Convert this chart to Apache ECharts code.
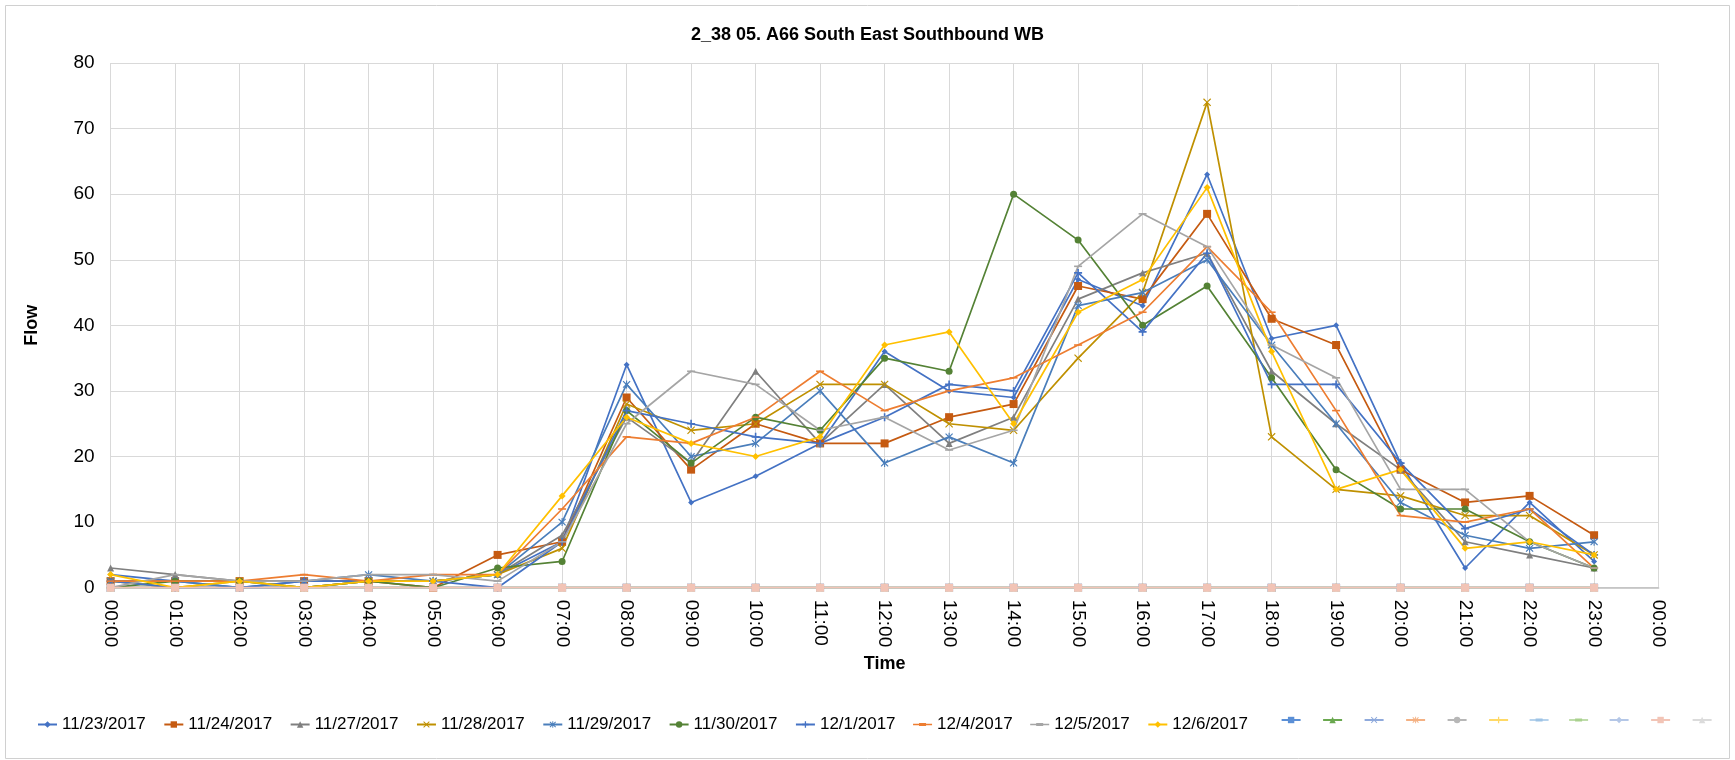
<!DOCTYPE html>
<html>
<head>
<meta charset="utf-8">
<script src="https://cdn.jsdelivr.net/npm/echarts@6/dist/echarts.min.js"></script>
<style>
html,body{margin:0;padding:0;background:#fff;}
#chart{width:1735px;height:760px;}
</style>
</head>
<body>
<div id="chart"></div>
<script>
// ---- data ----
const chartTitle = '2_38 05. A66 South East Southbound WB';
const timeLabels = ['00:00','01:00','02:00','03:00','04:00','05:00','06:00','07:00','08:00','09:00','10:00','11:00','12:00','13:00','14:00','15:00','16:00','17:00','18:00','19:00','20:00','21:00','22:00','23:00','00:00'];
const seriesNames = ['11/23/2017','11/24/2017','11/27/2017','11/28/2017','11/29/2017','11/30/2017','12/1/2017','12/4/2017','12/5/2017','12/6/2017'];

const flow_11_23 = [2,1,0,0,1,1,2,7,34,13,17,22,36,30,29,47,43,63,38,40,19,3,13,4];
const flow_11_24 = [1,1,1,1,1,0,5,7,29,18,25,22,22,26,28,46,44,57,41,37,18,13,14,8];
const flow_11_27 = [3,2,1,1,1,1,2,8,26,19,33,22,31,22,26,44,48,51,33,25,18,7,5,3];
const flow_11_28 = [1,0,1,0,1,1,2,6,28,24,25,31,31,25,24,35,45,74,23,15,14,11,11,5];
const flow_11_29 = [1,1,0,1,2,1,2,10,31,20,22,30,19,23,19,43,45,50,37,25,13,8,6,7];
const flow_11_30 = [0,1,1,0,1,0,3,4,27,19,26,24,35,33,60,53,40,46,32,18,12,12,7,3];
const flow_12_01 = [1,0,0,1,1,1,0,7,27,25,23,22,26,31,30,48,39,51,31,31,19,9,12,5];
const flow_12_04 = [1,1,1,2,1,2,2,12,23,22,26,33,27,30,32,37,42,52,42,27,11,10,12,3];
const flow_12_05 = [0,2,1,1,2,2,1,7,25,33,31,24,26,21,24,49,57,52,37,32,15,15,7,3];
const flow_12_06 = [2,0,1,0,1,1,2,14,26,22,20,23,37,39,25,42,47,61,36,15,18,6,7,5];
const namedValues = [flow_11_23,flow_11_24,flow_11_27,flow_11_28,flow_11_29,flow_11_30,flow_12_01,flow_12_04,flow_12_05,flow_12_06];

// unlabeled series in the legend, all plotted along zero
const blankSeriesValues = [0,0,0,0,0,0,0,0,0,0,0,0,0,0,0,0,0,0,0,0,0,0,0,0];
const blankSeriesCount = 11;

// ---- styles ----
const P_PLUS = 'path://M4,0H6V4H10V6H6V10H4V6H0V4H4Z';
const P_X = 'path://M1,0L5,4L9,0L10,1L6,5L10,9L9,10L5,6L1,10L0,9L4,5L0,1Z';
const P_STAR = 'path://M4.3,0H5.7V3.6L8.9,0.4L9.9,1.4L6.4,5L9.9,8.6L8.9,9.6L5.7,6.4V10H4.3V6.4L1.1,9.6L0.1,8.6L3.6,5L0.1,1.4L1.1,0.4L4.3,3.6Z';
const P_DASH = 'path://M0,4H10V6H0Z';
const P_DASH_LEGEND = 'path://M0,9.3H19V10.7H0Z M6,8.5H13V11.5H6Z';

const namedColors = ['#4472C4','#C55A11','#7F7F7F','#BF9000','#4A7EBB','#548235','#4472C4','#ED7D31','#A5A5A5','#FFC000'];
const namedSymbols = ['diamond','rect','triangle',P_X,P_STAR,'circle',P_PLUS,P_DASH,P_DASH,'diamond'];
const namedSizes = [6,8,7,8,8,7,8,8,8,7];

const blankColors = ['#5B8FD6','#6AA84F','#8FAADC','#F4B183','#B7B7B7','#FFD966','#9DC3E6','#A9D18E','#B4C7E7','#F2C4B6','#DBDBDB'];
const blankSymbols = ['rect','triangle',P_X,P_STAR,'circle',P_PLUS,P_DASH,P_DASH,'diamond','rect','triangle'];

const series = [];
const legend1Data = [];
seriesNames.forEach((n, i) => {
  series.push({
    name: n, type: 'line', data: namedValues[i],
    symbol: namedSymbols[i], symbolSize: namedSizes[i], symbolKeepAspect: true,
    showAllSymbol: true,
    lineStyle: {color: namedColors[i], width: 1.7},
    itemStyle: {color: namedColors[i]},
    emphasis: {disabled: true}, animation: false
  });
  legend1Data.push(namedSymbols[i] === P_DASH ? {name: n, icon: P_DASH_LEGEND} : {name: n});
});
const legend2Data = [];
for (let i = 0; i < blankSeriesCount; i++) {
  const nm = '\u200b'.repeat(i + 1);
  series.push({
    name: nm, type: 'line', data: blankSeriesValues,
    symbol: blankSymbols[i], symbolSize: 8, symbolKeepAspect: true,
    showAllSymbol: true,
    z: i === 9 ? 5 : 2,
    lineStyle: {color: blankColors[i], width: 1.7},
    itemStyle: {color: blankColors[i]},
    emphasis: {disabled: true}, animation: false
  });
  legend2Data.push(blankSymbols[i] === P_DASH ? {name: nm, icon: P_DASH_LEGEND} : {name: nm});
}

const chart = echarts.init(document.getElementById('chart'));
chart.setOption({
  backgroundColor: '#fff',
  animation: false,
  textStyle: {fontFamily: 'Liberation Sans, Arial, sans-serif'},
  title: {
    text: chartTitle, left: 'center', top: 26, padding: 0,
    textStyle: {fontSize: 18, fontWeight: 'bold', color: '#000', fontFamily: 'Liberation Sans, Arial, sans-serif'}
  },
  graphic: [{
    type: 'rect', silent: true, z: -10,
    shape: {x: 5.5, y: 5.5, width: 1724, height: 753},
    style: {fill: 'none', stroke: '#D0D0D0', lineWidth: 1}
  }],
  grid: {left: 110.6, right: 76.4, top: 63, bottom: 172.3, containLabel: false},
  xAxis: {
    type: 'category', data: timeLabels, boundaryGap: false,
    name: 'Time', nameLocation: 'middle', nameGap: 66,
    nameTextStyle: {fontSize: 18, fontWeight: 'bold', color: '#000'},
    axisLine: {lineStyle: {color: '#BFBFBF', width: 1.5}},
    axisTick: {show: false},
    axisLabel: {rotate: -90, fontSize: 19, color: '#000', margin: 12, interval: 0},
    splitLine: {show: true, interval: 0, lineStyle: {color: '#D9D9D9'}}
  },
  yAxis: {
    type: 'value', min: 0, max: 80, interval: 10,
    name: 'Flow', nameLocation: 'middle', nameGap: 70,
    nameTextStyle: {fontSize: 18, fontWeight: 'bold', color: '#000'},
    axisLine: {show: false}, axisTick: {show: false},
    axisLabel: {fontSize: 19, color: '#000', margin: 16},
    splitLine: {lineStyle: {color: '#D9D9D9'}}
  },
  legend: [{
    data: legend1Data, left: 37, top: 716, padding: 0,
    itemWidth: 19, itemHeight: 8, itemGap: 17.5,
    textStyle: {fontSize: 17, color: '#000'},
    selectedMode: false
  }, {
    data: legend2Data, left: 1280.6, top: 716, padding: 0,
    itemWidth: 19, itemHeight: 8, itemGap: 20.5,
    formatter: function () { return ''; },
    textStyle: {fontSize: 17, color: '#000'},
    selectedMode: false
  }],
  series: series
});
</script>
</body>
</html>
